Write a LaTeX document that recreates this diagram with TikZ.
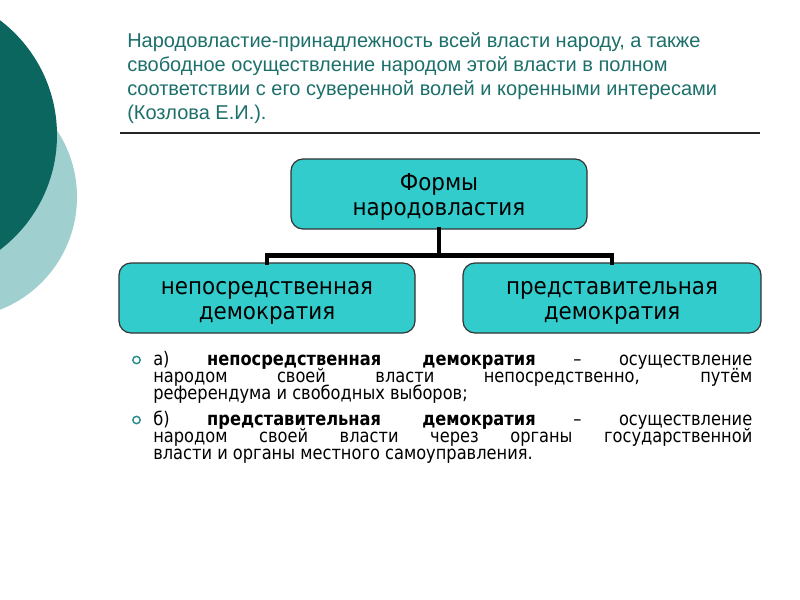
\documentclass[tikz,border=0pt]{standalone}
\usepackage{fontspec}
\setmainfont{DejaVu Sans}
\newfontfamily\titlefont{Liberation Sans}
\newfontfamily\bodyfont{DejaVu Sans}[FakeStretch=0.87]
\newfontfamily\boxfont{DejaVu Sans}[FakeStretch=0.92]
\definecolor{darkteal}{HTML}{0B665F}
\definecolor{lightteal}{HTML}{9FCFCF}
\definecolor{titleteal}{HTML}{1C6F6A}
\definecolor{boxfill}{HTML}{33CCCC}
\definecolor{bulletteal}{HTML}{2A8C8C}
\tikzset{
  formbox/.style={draw=black!80, line width=0.9pt, fill=boxfill, rounded corners=9pt,
    minimum height=52.5pt, inner sep=0pt,
    font=\boxfont\fontsize{17.5pt}{19pt}\selectfont},
  titleline/.style={anchor=base west, inner sep=0pt, text=titleteal,
    font=\titlefont\fontsize{15pt}{17pt}\selectfont},
  bodyline/.style={anchor=base west, inner sep=0pt,
    font=\bodyfont\fontsize{14pt}{15pt}\selectfont},
  link/.style={line width=3.6pt, line cap=rect},
  bulletmark/.style={circle, draw=bulletteal, line width=1.1pt, inner sep=0pt, minimum size=5.5pt}
}
\newcommand{\jline}[1]{\makebox[449.25pt][s]{#1}}
\newcommand{\boxtext}[2]{\raisebox{-3pt}[\height][\depth]{\begin{tabular}{@{}c@{}}#1\\#2\end{tabular}}}
\begin{document}
\begin{tikzpicture}[x=0.75pt,y=-0.75pt]
\useasboundingbox (0,0) rectangle (800,600);
\begin{scope}
\clip (0,0) rectangle (800,600);
\fill[lightteal] (-44,197) circle (121);
\fill[darkteal] (-87,135) circle (144);
\end{scope}
% title
\node[titleline] (t1) at (127,47) {Народовластие-принадлежность всей власти народу, а также};
\node[titleline] (t2) at (127,71) {свободное осуществление народом этой власти в полном};
\node[titleline] (t3) at (127,95) {соответствии с его суверенной волей и коренными интересами};
\node[titleline] (t4) at (127,119) {(Козлова Е.И.).};
\coordinate (hl1) at (120,133);
\coordinate (hl2) at (760,133);
\draw[line width=0.9pt, black!85] (hl1) -- (hl2);
% boxes
\node[formbox, minimum width=222pt] (top) at (439,194) {\boxtext{Формы}{народовластия}};
\node[formbox, minimum width=222pt] (left) at (267,298) {\boxtext{непосредственная}{демократия}};
\node[formbox, minimum width=223.5pt] (right) at (612,298) {\boxtext{представительная}{демократия}};
\draw[link] (top.south) -- ++(0,25.5) coordinate (mid);
\draw[link] (left.north) |- (mid) -| (right.north);
% bullets
\node[bulletmark] (b1) at (136.5,360) {};
\node[bulletmark] (b2) at (136.5,420) {};
\node[bodyline] (l1) at (153,365) {\jline{а)\ \textbf{непосредственная демократия} – осуществление}};
\node[bodyline] (l2) at (153,382) {\jline{народом своей власти непосредственно, путём}};
\node[bodyline] (l3) at (153,399) {референдума и свободных выборов;};
\node[bodyline] (l4) at (153,425) {\jline{б)\ \textbf{представительная демократия} – осуществление}};
\node[bodyline] (l5) at (153,442) {\jline{народом своей власти через органы государственной}};
\node[bodyline] (l6) at (153,459) {власти и органы местного самоуправления.};
\end{tikzpicture}
\end{document}
